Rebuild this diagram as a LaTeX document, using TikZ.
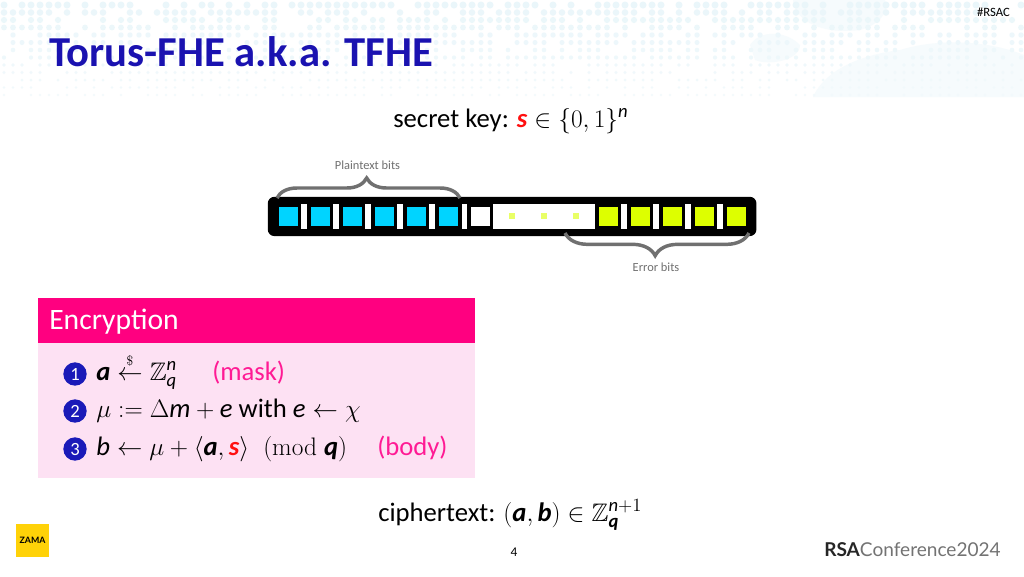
\documentclass[tikz,border=0pt]{standalone}
\usepackage{fix-cm}
\usepackage{amsmath,amssymb}
\usepackage[no-math]{fontspec}
\setmainfont{Carlito}
\newfontfamily\logofont{Lato}
\usetikzlibrary{decorations.pathreplacing}
\DeclareMathSizes{20}{19}{14}{10}
\definecolor{titleBlue}{HTML}{1A12B0}
\definecolor{stepBlue}{HTML}{1A1AB8}
\definecolor{encPink}{HTML}{FF0080}
\definecolor{encLight}{HTML}{FDE1F3}
\definecolor{notePink}{HTML}{FF1A94}
\definecolor{bitCyan}{HTML}{00D4FF}
\definecolor{bitLime}{HTML}{DDFF00}
\definecolor{dotLime}{HTML}{E9FF66}
\definecolor{braceGray}{HTML}{707070}
\definecolor{labelGray}{HTML}{707070}
\definecolor{zamaYellow}{HTML}{FFD208}
\definecolor{keyRed}{HTML}{FF1010}
\definecolor{patternBlue}{HTML}{EAF6FA}
\definecolor{blobBlue}{HTML}{F6FBFD}
\tikzset{
  bitCell/.style={
    minimum width=14.2pt,
    minimum height=14.2pt,
    inner sep=0pt,
    anchor=north west
  },
  plaintextCell/.style={bitCell,fill=bitCyan},
  errorCell/.style={bitCell,fill=bitLime},
  emptyCell/.style={bitCell,fill=white},
  bitDivider/.style={
    fill=white,
    inner sep=0pt,
    minimum width=4.3pt,
    minimum height=19pt,
    anchor=north west
  },
  bitDot/.style={
    fill=dotLime,
    inner sep=0pt,
    minimum size=5pt
  },
  upCurlybrace/.style={
    decoration={brace,amplitude=15pt,aspect=0.49},
    decorate,
    draw=braceGray,
    line width=2.6pt
  },
  downCurlybrace/.style={
    upCurlybrace,
    decoration={mirror,amplitude=17pt}
  },
  bitLabel/.style={font=\fontsize{9.3}{11}\selectfont,text=labelGray},
  mainText/.style={font=\fontsize{20}{24}\selectfont,anchor=base west,inner sep=0pt},
  noteText/.style={mainText,text=notePink},
  stepCircle/.style={
    circle,
    fill=stepBlue,
    text=white,
    minimum size=17.5pt,
    inner sep=0pt,
    font=\fontsize{14}{14}\selectfont
  }
}
\newcommand\mvar[1]{\text{\itshape #1}}
\newcommand\mbold[1]{\text{\bfseries\itshape #1}}

\begin{document}
\begin{tikzpicture}[x=0.75pt,y=-0.75pt]
    \useasboundingbox (0,0) rectangle (1024,576);
    \fill[white] (0,0) rectangle (1024,576);

    % header background
    \fill[blobBlue] (813,97) .. controls (825,70) and (860,55) .. (900,50)
      .. controls (950,35) and (1000,45) .. (1024,55) -- (1024,97) -- cycle;
    \fill[blobBlue] (793,0) .. controls (795,20) and (820,35) .. (860,30)
      .. controls (880,25) and (890,10) .. (885,0) -- cycle;
    \fill[blobBlue] (750,45) .. controls (760,30) and (785,30) .. (800,45)
      .. controls (800,60) and (770,66) .. (755,60) -- cycle;
    \pgfmathsetseed{41}
    \foreach \row in {0,...,12} {
      \pgfmathsetmacro\dotRadius{3.5-\row*0.2}
      \pgfmathsetmacro\dotShade{100-\row*3}
      \foreach \col in {0,...,113} {
        \pgfmathparse{rnd>0.27 ? 1 : 0}
        \ifnum\pgfmathresult=1
          \fill[patternBlue!\dotShade] (\col*9+4,\row*7.5+5) circle[radius=\dotRadius];
        \fi
      }
    }

    % title and tag
    \node[anchor=base west,inner sep=0pt,text=titleBlue,font=\fontsize{32}{36}\selectfont\bfseries]
      (slideTitle) at (49,66) {Torus-FHE a.k.a. TFHE};
    \node[anchor=base east,inner sep=0pt,font=\fontsize{9.5}{11}\selectfont]
      (slideTag) at (1010,16) {\#RSAC};

    % secret key
    \node[mainText] (secretKey) at (393,127)
      {secret key: $\textcolor{keyRed}{\mbold{s}}\in\{0,1\}^{\mvar{n}}$};

    % bit register
    \node[fill=black,rounded corners=5pt,minimum width=366.5pt,minimum height=29.5pt,
      inner sep=0pt,anchor=north west] (register) at (267.5,196.5) {};

    % plaintext cells and dividers
    \foreach \x in {0,...,5} {
      \node[plaintextCell] (plainCell\x) at (278.5+\x*32.1,206.8) {};
      \node[bitDivider] (plainDivider\x) at (300.8+\x*32.1,203.4) {};
    }
    \node[emptyCell] (emptyCell) at (471,206.8) {};

    % middle part with the dots
    \node[bitCell,fill=white,minimum width=76.5pt,minimum height=19pt] (middleCell) at (493,203.4) {};
    \foreach \x in {0,1,2} {
      \node[bitDot] (middleDot\x) at (512+\x*32,216) {};
    }

    % error cells and dividers
    \foreach \x in {0,...,4} {
      \node[errorCell] (errorCell\x) at (599+\x*32,206.8) {};
    }
    \foreach \x in {0,...,3} {
      \node[bitDivider] (errorDivider\x) at (621+\x*32,203.4) {};
    }

    % braces
    \coordinate (plainStart) at (277,198);
    \coordinate (plainEnd) at (460,198);
    \coordinate (errorStart) at (565,233);
    \coordinate (errorEnd) at (749,233);
    \draw[upCurlybrace] (plainStart) -- (plainEnd);
    \draw[downCurlybrace] (errorStart) -- (errorEnd);
    \node[bitLabel] (plainLabel) at (367.5,165) {Plaintext bits};
    \node[bitLabel] (errorLabel) at (656,267) {Error bits};

    % encryption box
    \fill[encLight] (38,343) rectangle (475,478);
    \node[fill=encPink,minimum width=327.75pt,minimum height=33.75pt,inner sep=0pt,anchor=north west]
      (encHead) at (38,298) {};
    \node[anchor=base west,inner sep=0pt,text=white,font=\fontsize{22.2}{26}\selectfont]
      (encTitle) at (49,329) {Encryption};

    % steps
    \node[stepCircle] (stepOne) at (75,374) {1};
    \node[stepCircle] (stepTwo) at (75,411) {2};
    \node[stepCircle] (stepThree) at (75,449) {3};
    \node[mainText] (lineOne) at (96,380)
      {$\mbold{a}\overset{\scriptscriptstyle\$}{\leftarrow}\mathbb{Z}_{\mvar{q}}^{\mvar{n}}$};
    \node[noteText] (maskNote) at (212,380) {(mask)};
    \node[mainText] (lineTwo) at (96,417)
      {$\mu:=\Delta\mvar{m}+\mvar{e}$ with $\mvar{e}\leftarrow\chi$};
    \node[mainText] (lineThree) at (96,455)
      {$\mvar{b}\leftarrow\mu+\langle\mbold{a},\textcolor{keyRed}{\mbold{s}}\rangle\;\;(\mathrm{mod}\;\mbold{q})$};
    \node[noteText] (bodyNote) at (377,455) {(body)};

    % ciphertext
    \node[mainText] (cipherText) at (378,521)
      {ciphertext: $(\mbold{a},\mbold{b})\in\mathbb{Z}_{\mbold{q}}^{\mvar{n}+1}$};

    % footer
    \node[font=\fontsize{10}{12}\selectfont,inner sep=0pt] (pageNumber) at (514,552) {4};
    \node[fill=zamaYellow,minimum size=24.4pt,inner sep=0pt,anchor=north west,
      font=\logofont\fontsize{6.6}{7}\selectfont\bfseries] (zamaLogo) at (16,524) {ZAMA};
    \node[anchor=base west,inner sep=0pt,font=\logofont\fontsize{14.3}{18}\selectfont,text=black!55]
      (rsaLogo) at (824,556) {\textbf{\textcolor{black!85}{RSA}}Conference2024};
\end{tikzpicture}
\end{document}
